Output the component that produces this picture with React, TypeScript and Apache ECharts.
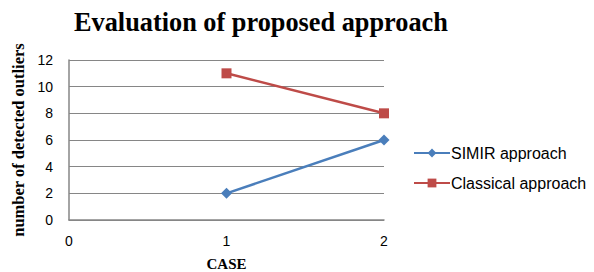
import React, { useEffect, useRef } from "react";
import * as echarts from "echarts";

const xTicks = [0, 1, 2];
const simirCases = [1, 2];
const simirValues = [2, 6];
const classicalCases = [1, 2];
const classicalValues = [11, 8];
const seriesNames = ["SIMIR approach", "Classical approach"];

export default function App() {
  const ref = useRef<HTMLDivElement>(null);
  useEffect(() => {
    if (!ref.current) return;
    const chart = echarts.init(ref.current, undefined, { renderer: "svg" });
    chart.setOption({
      animation: false,
      title: {
        text: "Evaluation of proposed approach",
        left: 74,
        top: 9,
        padding: 0,
        textStyle: { fontFamily: "Liberation Serif", fontSize: 26.3, fontWeight: "bold", color: "#000" },
      },
      grid: { left: 69, right: 210, top: 60, bottom: 52, containLabel: false, outerBoundsMode: "none" },
      xAxis: {
        type: "value",
        min: xTicks[0],
        max: xTicks[xTicks.length - 1],
        interval: 1,
        name: "CASE",
        nameLocation: "middle",
        nameGap: 36,
        nameTextStyle: { fontFamily: "Liberation Serif", fontSize: 15, fontWeight: "bold", color: "#000" },
        axisLine: { show: true, lineStyle: { color: "#868686", width: 1.5 } },
        axisTick: { show: false },
        splitLine: { show: false },
        axisLabel: { fontFamily: "Liberation Sans", fontSize: 14, color: "#000", margin: 14 },
      },
      yAxis: {
        type: "value",
        min: 0,
        max: 12,
        interval: 2,
        name: "number of detected outliers",
        nameLocation: "middle",
        nameGap: 28,
        nameTextStyle: { fontFamily: "Liberation Serif", fontSize: 16.5, fontWeight: "bold", color: "#000" },
        axisLine: { show: true, lineStyle: { color: "#868686", width: 1.5 } },
        axisTick: { show: false },
        splitLine: { show: true, lineStyle: { color: "#868686", width: 1 } },
        axisLabel: { fontFamily: "Liberation Sans", fontSize: 14, color: "#000", margin: 16 },
      },
      legend: {
        orient: "vertical",
        left: 413,
        top: 145,
        padding: 0,
        itemGap: 14,
        itemWidth: 36,
        itemHeight: 11,
        textStyle: { fontFamily: "Liberation Sans", fontSize: 16, color: "#000", padding: [0, 0, 0, -4] },
        data: seriesNames,
      },
      series: [
        {
          name: seriesNames[0],
          type: "line",
          data: simirCases.map((c, i) => [c, simirValues[i]]),
          symbol: "diamond",
          symbolSize: 11,
          lineStyle: { color: "#4a7ebb", width: 2.5 },
          itemStyle: { color: "#4a7ebb" },
        },
        {
          name: seriesNames[1],
          type: "line",
          data: classicalCases.map((c, i) => [c, classicalValues[i]]),
          symbol: "rect",
          symbolSize: 10,
          lineStyle: { color: "#be4b48", width: 2.5 },
          itemStyle: { color: "#be4b48" },
        },
      ],
    });
    return () => chart.dispose();
  }, []);
  return <div ref={ref} style={{ width: 594, height: 272, position: "absolute", left: 0, top: 0 }} />;
}
